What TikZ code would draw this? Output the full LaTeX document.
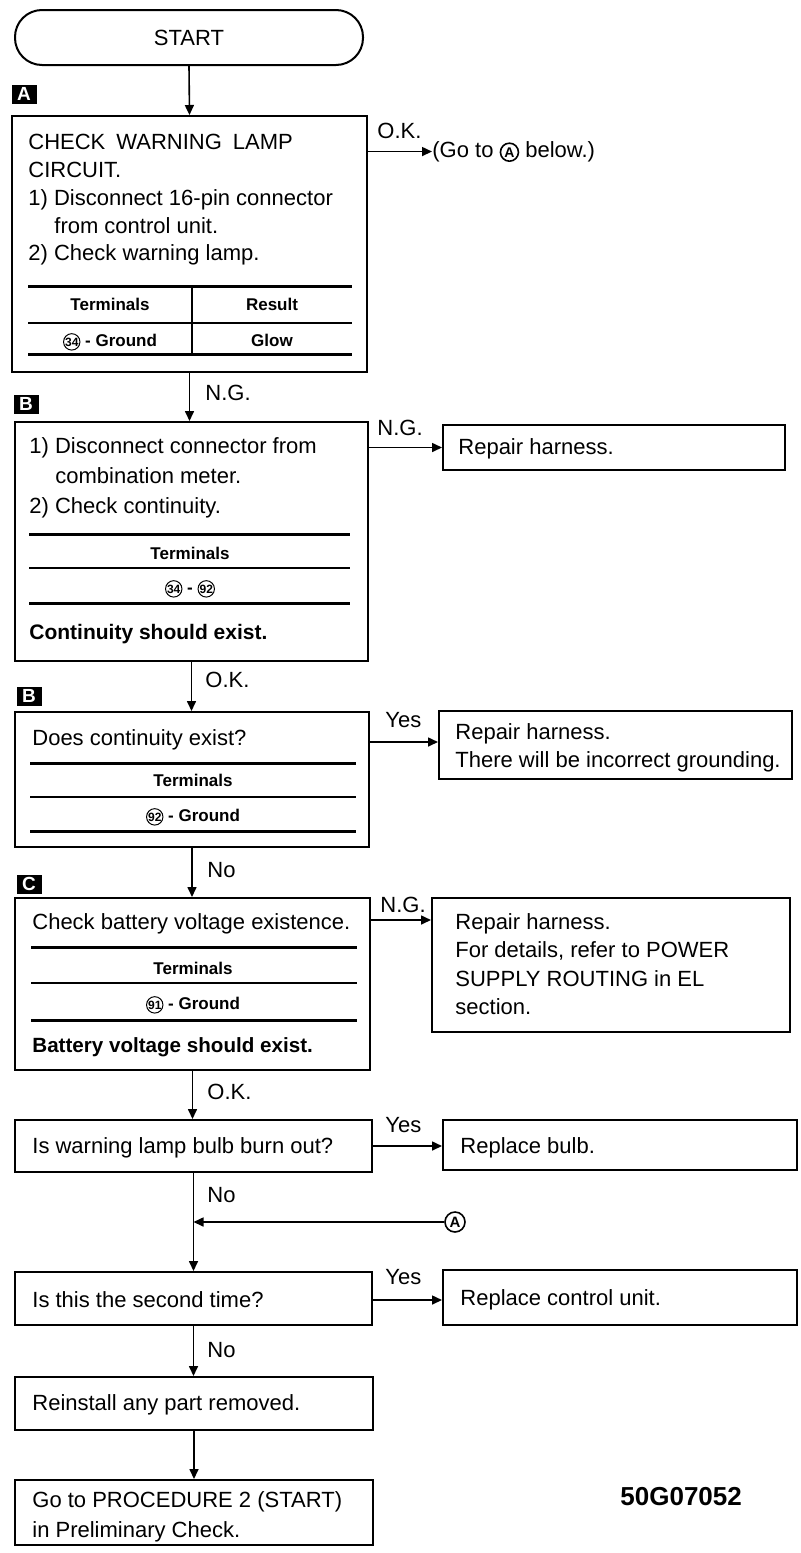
\documentclass[tikz,border=0pt]{standalone}
\usepackage{fontspec}
\setmainfont{Liberation Sans}
\usetikzlibrary{positioning,arrows.meta,fit}
\newcommand\mainsz{\fontsize{11}{13.9}\selectfont}
\newcommand\tabsz{\fontsize{8.5}{10}\selectfont\bfseries}
\newcommand\cnum[1]{\tikz[baseline=(cn.base)]\node[circle,draw,line width=0.5pt,inner sep=0pt,minimum size=8.2pt,font=\fontsize{6}{6}\selectfont\bfseries](cn){#1};}
\newcommand\cletter{\tikz[baseline=(cl.base)]\node[circle,draw,line width=0.8pt,inner sep=0pt,minimum size=9pt,font=\fontsize{7}{7}\selectfont\bfseries](cl){A};}
\tikzset{
  box/.style={draw, line width=1pt, inner sep=0pt, fit={#1}},
  txt/.style={anchor=base west, inner sep=0pt, align=left, font=\mainsz},
  para/.style={anchor=north west, inner sep=0pt, align=left, font=\mainsz},
  lbl/.style={anchor=base west, inner sep=0pt, font=\mainsz},
  tab/.style={anchor=base, inner sep=0pt, font=\tabsz},
  tag/.style={fill=black, text=white, inner sep=0pt, minimum width=12.5pt, minimum height=9.5pt,
              font=\fontsize{9.5}{9.5}\selectfont\bfseries},
  flow/.style={-{Triangle[length=5pt,width=4.5pt]}, line width=0.8pt},
  heavy/.style={line width=1.5pt},
  light/.style={line width=0.7pt}
}
\begin{document}
\begin{tikzpicture}[x=0.5pt,y=-0.5pt]
\useasboundingbox (0,0) rectangle (801,1553);

% start
\node[draw, line width=1pt, rounded corners=13.5pt, inner sep=0pt, fit={(15,10)(363,65)}] (start) {};
\node[font=\mainsz] (startlbl) at (start.center) {START};

% step A
\node[tag] (tagA) at (24,94) {A};
\node[box={(12,116)(367,372)}] (chkA) {};
\node[para] (chkAtxt) at (28,134) {CHECK\hspace{0.5em}WARNING\hspace{0.5em}LAMP\\CIRCUIT.\\
  1) Disconnect 16-pin connector\\\hspace*{13pt}from control unit.\\2) Check warning lamp.};
\draw[heavy] (28,286) -- (352,286);
\draw[light] (28,323) -- (352,323);
\draw[heavy] (28,354) -- (352,354);
\draw[light] (192,286) -- (192,354);
\node[tab] (tA1) at (110,310) {Terminals};
\node[tab] (tA2) at (272,310) {Result};
\node[tab] (tA3) at (110,346) {\cnum{34} - Ground};
\node[tab] (tA4) at (272,346) {Glow};
\node[lbl] (goA) at (432,157) {(Go to \cletter\ below.)};
\draw[flow] (start.south) -- (chkA.north);
\draw[flow] (chkA.east |- goA.west) -- (goA.west);
\node[lbl] (okA) at (377,138) {O.K.};

% step B, connector
\node[tag] (tagB) at (26,404) {B};
\node[box={(15,422)(368,661)}] (chkB) {};
\node[para, font=\fontsize{11}{15}\selectfont] (chkBtxt) at (29,437)
  {1) Disconnect connector from\\\hspace*{13pt}combination meter.\\2) Check continuity.};
\draw[heavy] (29,534) -- (350,534);
\draw[light] (29,568) -- (350,568);
\draw[heavy] (29,603) -- (350,603);
\node[tab] (tB1) at (190,559) {Terminals};
\node[tab] (tB2) at (190,593) {\cnum{34} - \cnum{92}};
\node[txt, font=\fontsize{10.5}{12}\selectfont\bfseries] (chkBres) at (29,639) {Continuity should exist.};
\draw[flow] (chkA.south) -- (chkA.south |- chkB.north);
\node[lbl] (ngA) at (205,400) {N.G.};
\node[box={(443,425)(785,470)}] (fixB) {};
\node[txt] (fixBtxt) at (458,454) {Repair harness.};
\draw[flow] (chkB.east |- fixB.west) -- (fixB.west);
\node[lbl] (ngB) at (377,435) {N.G.};

% step B, ground
\node[tag] (tagB2) at (29,696) {B};
\node[box={(15,712)(369,847)}] (chkG) {};
\node[txt] (chkGtxt) at (32,745) {Does continuity exist?};
\draw[heavy] (30,763) -- (356,763);
\draw[light] (30,797) -- (356,797);
\draw[heavy] (30,831) -- (356,831);
\node[tab] (tG1) at (193,786) {Terminals};
\node[tab] (tG2) at (193,821) {\cnum{92} - Ground};
\draw[flow] (chkB.south) -- (chkB.south |- chkG.north);
\node[lbl] (okB) at (205,687) {O.K.};
\node[box={(439,711)(792,779)}] (fixG) {};
\node[para] (fixGtxt) at (455,723) {Repair harness.\\There will be incorrect grounding.};
\draw[flow] (chkG.east |- 0,742) -- (fixG.west |- 0,742);
\node[lbl] (yesG) at (385,727) {Yes};

% step C
\node[tag] (tagC) at (29,884) {C};
\node[box={(15,898)(370,1070)}] (chkC) {};
\node[txt] (chkCtxt) at (32,929) {Check battery voltage existence.};
\draw[heavy] (31,947) -- (357,947);
\draw[light] (31,983) -- (357,983);
\draw[heavy] (31,1020) -- (357,1020);
\node[tab] (tC1) at (193,974) {Terminals};
\node[tab] (tC2) at (193,1009) {\cnum{91} - Ground};
\node[txt, font=\fontsize{10.3}{12}\selectfont\bfseries] (chkCres) at (32,1052) {Battery voltage should exist.};
\draw[flow] (chkG.south) -- (chkG.south |- chkC.north);
\node[lbl] (noG) at (207,877) {No};
\node[box={(432,898)(790,1032)}] (fixC) {};
\node[para, font=\fontsize{11}{14.2}\selectfont] (fixCtxt) at (455,913)
  {Repair harness.\\For details, refer to POWER\\SUPPLY ROUTING in EL\\section.};
\draw[flow] (chkC.east |- 0,920) -- (fixC.west |- 0,920);
\node[lbl] (ngC) at (380,912) {N.G.};

% bulb
\node[box={(15,1120)(372,1172)}] (chkD) {};
\node[txt] (chkDtxt) at (32,1153) {Is warning lamp bulb burn out?};
\draw[flow] (chkC.south) -- (chkC.south |- chkD.north);
\node[lbl] (okC) at (207,1099) {O.K.};
\node[box={(443,1120)(797,1170)}] (fixD) {};
\node[txt] (fixDtxt) at (460,1153) {Replace bulb.};
\draw[flow] (chkD.east |- 0,1146) -- (fixD.west |- 0,1146);
\node[lbl] (yesD) at (385,1132) {Yes};

% second time
\node[box={(15,1272)(372,1325)}] (chkE) {};
\node[txt] (chkEtxt) at (32,1307) {Is this the second time?};
\draw[flow] (chkD.south) -- (chkD.south |- chkE.north);
\node[lbl] (noD) at (207,1202) {No};
\node[circle, draw, line width=0.8pt, inner sep=0pt, minimum size=10pt,
      font=\fontsize{7.5}{7.5}\selectfont\bfseries] (jumpA) at (455,1222) {A};
\coordinate (merge) at (chkD.south |- jumpA);
\draw[flow] (jumpA.west) -- (merge);
\node[box={(443,1270)(797,1325)}] (fixE) {};
\node[txt] (fixEtxt) at (460,1305) {Replace control unit.};
\draw[flow] (chkE.east |- 0,1300) -- (fixE.west |- 0,1300);
\node[lbl] (yesE) at (385,1284) {Yes};

% finish
\node[box={(15,1377)(373,1430)}] (reinst) {};
\node[txt] (reinsttxt) at (32,1410) {Reinstall any part removed.};
\draw[flow] (chkE.south) -- (chkE.south |- reinst.north);
\node[lbl] (noE) at (207,1357) {No};
\node[box={(15,1480)(373,1545)}] (goon) {};
\node[para, font=\fontsize{11}{15}\selectfont] (goontxt) at (32,1491) {Go to PROCEDURE 2 (START)\\in Preliminary Check.};
\draw[flow] (reinst.south) -- (reinst.south |- goon.north);
\node[lbl, font=\fontsize{13}{13}\selectfont\bfseries] (figno) at (620,1505) {50G07052};
\end{tikzpicture}
\end{document}
